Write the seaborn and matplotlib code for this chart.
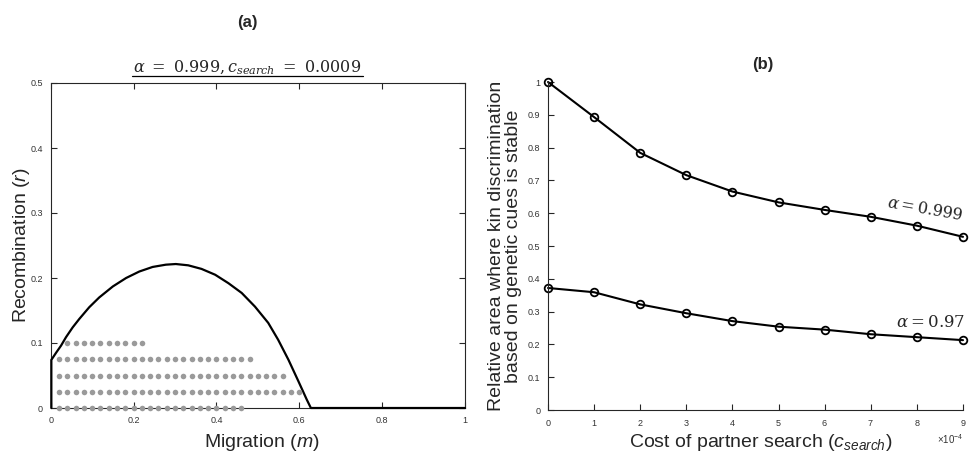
import numpy as np
import pandas as pd
import matplotlib
matplotlib.use("Agg")
import matplotlib.pyplot as plt
import seaborn as sns
from matplotlib.ticker import ScalarFormatter, FixedLocator

# ---------------- data ----------------
# Panel (a): stability boundary
m_boundary = [0.0015, 0.0015, 0.013, 0.025, 0.037, 0.053, 0.069, 0.093, 0.117,
              0.150, 0.182, 0.214, 0.246, 0.278, 0.302, 0.332, 0.364, 0.397,
              0.429, 0.461, 0.493, 0.525, 0.549, 0.574, 0.598, 0.618, 0.628, 1.0]
r_boundary = [0.0, 0.074, 0.085, 0.096, 0.109, 0.124, 0.137, 0.155, 0.170,
              0.187, 0.200, 0.210, 0.217, 0.2205, 0.2215, 0.2195, 0.214, 0.205,
              0.192, 0.177, 0.156, 0.131, 0.105, 0.074, 0.041, 0.013, 0.0, 0.0]

# Panel (a): simulation grid points (rows of dots)
dot_rows_r = [0.0, 0.025, 0.05, 0.075, 0.1]
dot_rows_mstart = [0.02, 0.02, 0.02, 0.02, 0.04]
dot_rows_mend = [0.46, 0.60, 0.56, 0.48, 0.22]
dot_step = 0.02

# Panel (b)
c_search = [0.0, 0.0001, 0.0002, 0.0003, 0.0004, 0.0005, 0.0006, 0.0007, 0.0008, 0.0009]
area_a0999 = [1.0, 0.893, 0.784, 0.716, 0.666, 0.633, 0.610, 0.589, 0.562, 0.528]
area_a097 = [0.372, 0.359, 0.322, 0.295, 0.271, 0.254, 0.245, 0.231, 0.222, 0.213]

x_ticks_a = [0, 0.2, 0.4, 0.6, 0.8, 1.0]
x_ticklabels_a = ["0", "0.2", "0.4", "0.6", "0.8", "1"]
y_ticks_a = [0, 0.1, 0.2, 0.3, 0.4, 0.5]
y_ticklabels_a = ["0", "0.1", "0.2", "0.3", "0.4", "0.5"]
y_ticks_b = [0, 0.1, 0.2, 0.3, 0.4, 0.5, 0.6, 0.7, 0.8, 0.9, 1.0]
y_ticklabels_b = ["0", "0.1", "0.2", "0.3", "0.4", "0.5", "0.6", "0.7", "0.8", "0.9", "1"]

# build dot table
dm, dr = [], []
for r, a, b in zip(dot_rows_r, dot_rows_mstart, dot_rows_mend):
    n = int(round((b - a) / dot_step)) + 1
    for i in range(n):
        dm.append(a + i * dot_step)
        dr.append(r)
dots = pd.DataFrame({"m": dm, "r": dr})
boundary = pd.DataFrame({"m": m_boundary, "r": r_boundary})
dfb1 = pd.DataFrame({"c": c_search, "area": area_a0999})
dfb2 = pd.DataFrame({"c": c_search, "area": area_a097})

# ---------------- style ----------------
sns.set_style("ticks")
plt.rcParams["font.family"] = ["Liberation Sans", "DejaVu Sans"]
plt.rcParams["mathtext.fontset"] = "custom"
plt.rcParams["mathtext.rm"] = "Liberation Sans"
plt.rcParams["mathtext.it"] = "Liberation Sans:italic"
plt.rcParams["mathtext.bf"] = "Liberation Sans:bold"

spine_c = "#262626"
tick_c = "#333333"
MATHFONT = "dejavuserif"

fig = plt.figure(figsize=(9.72, 4.55), dpi=100)
ax1 = fig.add_axes([50.7 / 972, 1 - 408 / 455, 414.3 / 972, 325 / 455])
ax2 = fig.add_axes([548 / 972, 1 - 410 / 455, 415 / 972, 328 / 455])

# ---------------- panel (a) ----------------
sns.lineplot(data=boundary, x="m", y="r", ax=ax1, sort=False, estimator=None,
             color="black", linewidth=1.6, clip_on=False, zorder=3)
sns.scatterplot(data=dots, x="m", y="r", ax=ax1, color="#9a9a9a", s=16,
                linewidth=0, clip_on=False, zorder=4)
ax1.set_xlim(0, 1)
ax1.set_ylim(0, 0.5)
ax1.set_xticks(x_ticks_a)
ax1.set_xticklabels(x_ticklabels_a)
ax1.set_yticks(y_ticks_a)
ax1.set_yticklabels(y_ticklabels_a)
ax1.tick_params(direction="in", top=True, right=True, length=4, width=0.8,
                labelsize=6.5, pad=5.5, colors=spine_c, labelcolor=tick_c)
for s in ax1.spines.values():
    s.set_color(spine_c)
    s.set_linewidth(0.8)
ax1.set_xlabel("Migration ($m$)", fontsize=14)
ax1.set_ylabel("Recombination ($r$)", fontsize=14)
ax1.xaxis.set_label_coords(0.509, -0.105)
ax1.xaxis.label.set_va("center")
ax1.yaxis.set_label_coords(-0.07, 0.5)
ax1.yaxis.label.set_va("center")

ax1.text(0.474, 1.034, r"$\alpha\ =\ 0.999, c_{search}\ =\ 0.0009$", transform=ax1.transAxes,
         ha="center", va="baseline", fontsize=11.5, math_fontfamily=MATHFONT)
ax1.plot([0.196, 0.754], [1.0215, 1.0215], transform=ax1.transAxes, color="black",
         linewidth=0.9, clip_on=False)

# ---------------- panel (b) ----------------
line_kw = dict(color="black", linewidth=1.5, marker="o", markersize=5.5,
               markerfacecolor="none", markeredgecolor="black", markeredgewidth=1.3,
               clip_on=False)
sns.lineplot(data=dfb1, x="c", y="area", ax=ax2, estimator=None, **line_kw)
sns.lineplot(data=dfb2, x="c", y="area", ax=ax2, estimator=None, **line_kw)
ax2.set_xlim(0, 0.0009)
ax2.set_ylim(0, 1)
ax2.xaxis.set_major_locator(FixedLocator(c_search))
fmt = ScalarFormatter(useMathText=True)
fmt.set_powerlimits((-3, 4))
ax2.xaxis.set_major_formatter(fmt)
ax2.set_yticks(y_ticks_b)
ax2.set_yticklabels(y_ticklabels_b)
sns.despine(ax=ax2)
ax2.tick_params(direction="in", length=4, width=0.8, labelsize=6.5, pad=5.5,
                colors=spine_c, labelcolor=tick_c)
for s in ["left", "bottom"]:
    ax2.spines[s].set_color(spine_c)
    ax2.spines[s].set_linewidth(0.8)
ax2.xaxis.get_offset_text().set_fontsize(7)
ax2.xaxis.get_offset_text().set_color(tick_c)
ax2.set_xlabel(r"Cost of partner search ($c_{search}$)", fontsize=14)
ax2.set_ylabel("Relative area where kin discrimination\nbased on genetic cues is stable",
               fontsize=14, linespacing=0.95)
ax2.xaxis.set_label_coords(0.513, -0.098)
ax2.xaxis.label.set_va("center")
ax2.yaxis.set_label_coords(-0.104, 0.5)
ax2.yaxis.label.set_va("center")

ax2.text(0.000733, 0.618, r"$\alpha = 0.999$", ha="left", va="baseline", rotation=-10,
         rotation_mode="anchor", fontsize=11.5, math_fontfamily=MATHFONT, clip_on=False)
ax2.text(0.000755, 0.253, r"$\alpha = 0.97$", ha="left", va="baseline",
         fontsize=12, math_fontfamily=MATHFONT, clip_on=False)

# panel letters
fig.text(247 / 972, 1 - 22 / 455, "(a)", ha="center", va="center", fontsize=12, fontweight="bold")
fig.text(763 / 972, 1 - 65 / 455, "(b)", ha="center", va="center", fontsize=12, fontweight="bold")

fig.savefig("out.png", dpi=100)
